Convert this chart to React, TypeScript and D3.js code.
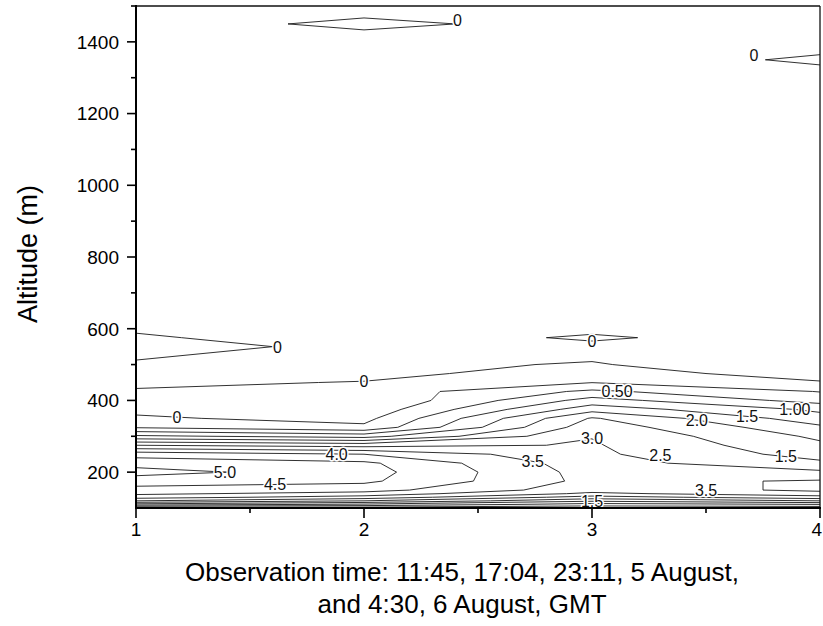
import React from 'react';
import * as d3 from 'd3';

// Altitude rows (m) of the gridded profile data
const altitudes = [100, 110, 120, 130, 140, 150, 175, 200, 225, 250, 275, 300, 325, 350, 375, 400, 425, 450, 475, 500, 550, 575, 600, 700, 800, 900, 1000, 1100, 1200, 1300, 1350, 1400, 1450, 1500];
// Observation index (x)
const times = [1, 2, 3, 4];
// Values per observation, one per altitude row
const valuesObs1 = [0.2, 1.8, 3.0, 3.7, 4.1, 4.35, 4.7, 5.2, 4.8, 4.3, 3.0, 1.6, 0.45, 0.06, -0.1, -0.1, -0.01, 0.02, 0.08, 0.02, -0.06, -0.03, 0.03, 0.1, 0.1, 0.1, 0.1, 0.1, 0.1, 0.1, 0.1, 0.1, 0.1, 0.1];
const valuesObs2 = [0.2, 1.4, 2.5, 3.3, 3.8, 4.2, 4.6, 4.7, 4.6, 4.0, 2.8, 1.3, 0.1, -0.15, -0.35, -0.5, -0.3, -0.005, 0.03, 0.03, 0.04, 0.12, 0.08, 0.1, 0.1, 0.1, 0.1, 0.1, 0.1, 0.1, 0.1, 0.1, -0.05, 0.1];
const valuesObs3 = [0.1, 0.8, 1.6, 2.3, 2.9, 3.2, 3.35, 3.3, 3.2, 3.1, 3.05, 2.98, 2.8, 2.55, 1.8, 1.2, 0.6, -0.01, -0.05, -0.01, 0.05, -0.03, 0.05, 0.1, 0.1, 0.1, 0.1, 0.1, 0.1, 0.1, 0.127, 0.1, 0.075, 0.1];
const valuesObs4 = [0.1, 1.0, 2.0, 2.8, 3.3, 3.6, 3.55, 3.1, 2.6, 2.3, 2.1, 1.9, 1.6, 1.2, 0.9, 0.3, -0.02, -0.01, 0.05, 0.1, 0.12, 0.12, 0.1, 0.1, 0.1, 0.1, 0.1, 0.1, 0.1, 0.1, -0.04, 0.1, 0.1, 0.1];

const contourLevels = [0, 0.5, 1.0, 1.5, 2.0, 2.5, 3.0, 3.5, 4.0, 4.5, 5.0];

const yTickValues = [200, 400, 600, 800, 1000, 1200, 1400];
const yMinorTickValues = [300, 500, 700, 900, 1100, 1300, 1500];
const xTickValues = [1, 2, 3, 4];
const xMinorTickValues = [1.5, 2.5, 3.5];

// Contour labels (text, level, approximate time and altitude where printed)
const labelTexts = ['0', '0', '0', '0', '0', '0', '0.50', '2.0', '1.5', '1.00', '3.0', '2.5', '1.5', '3.5', '3.5', '1.5', '4.0', '5.0', '4.5'];
const labelLevels = [0, 0, 0, 0, 0, 0, 0.5, 2.0, 1.5, 1.0, 3.0, 2.5, 1.5, 3.5, 3.5, 1.5, 4.0, 5.0, 4.5];
const labelTimes = [2.41, 3.71, 1.62, 3.0, 2.0, 1.18, 3.11, 3.46, 3.68, 3.89, 3.0, 3.3, 3.85, 2.74, 3.5, 3.0, 1.88, 1.39, 1.61];
const labelAltitudes = [1459, 1362, 548, 564, 424, 340, 438, 346, 346, 346, 296, 248, 245, 198, 150, 122, 248, 195, 150];

const FONT = '"Liberation Sans", Arial, Helvetica, sans-serif';

type Pt = [number, number];

function isolines(grid: number[][], level: number): [Pt, Pt][] {
  const segs: [Pt, Pt][] = [];
  const nx = times.length;
  const ny = altitudes.length;
  const cross = (a: Pt, va: number, b: Pt, vb: number): Pt => {
    const t = (level - va) / (vb - va);
    return [a[0] + t * (b[0] - a[0]), a[1] + t * (b[1] - a[1])];
  };
  for (let c = 0; c < nx - 1; c++) {
    for (let r = 0; r < ny - 1; r++) {
      const P: Pt[] = [
        [times[c], altitudes[r]],
        [times[c + 1], altitudes[r]],
        [times[c + 1], altitudes[r + 1]],
        [times[c], altitudes[r + 1]],
      ];
      const V = [grid[c][r], grid[c + 1][r], grid[c + 1][r + 1], grid[c][r + 1]];
      const up = V.map((v) => v >= level);
      const pts: (Pt | null)[] = [];
      for (let e = 0; e < 4; e++) {
        const a = e, b = (e + 1) % 4;
        pts.push(up[a] !== up[b] ? cross(P[a], V[a], P[b], V[b]) : null);
      }
      const present = pts.map((p, i) => (p ? i : -1)).filter((i) => i >= 0);
      if (present.length === 2) {
        segs.push([pts[present[0]] as Pt, pts[present[1]] as Pt]);
      } else if (present.length === 4) {
        const center = (V[0] + V[1] + V[2] + V[3]) / 4;
        if ((center >= level) === up[0]) {
          segs.push([pts[0] as Pt, pts[1] as Pt]);
          segs.push([pts[2] as Pt, pts[3] as Pt]);
        } else {
          segs.push([pts[3] as Pt, pts[0] as Pt]);
          segs.push([pts[1] as Pt, pts[2] as Pt]);
        }
      }
    }
  }
  return segs;
}

export default function App() {
  const x = d3.scaleLinear().domain([1, 4]).range([136, 820]);
  const y = d3.scaleLinear().domain([100, 1500]).range([508, 6]);
  const grid = [valuesObs1, valuesObs2, valuesObs3, valuesObs4];

  const contours = contourLevels.map((level) => {
    const segs = isolines(grid, level);
    const p = d3.path();
    segs.forEach(([a, b]) => {
      p.moveTo(x(a[0]), y(a[1]));
      p.lineTo(x(b[0]), y(b[1]));
    });
    return { level, segs, d: p.toString() };
  });

  const labels = labelTexts.map((text, i) => {
    const level = labelLevels[i];
    const tx = labelTimes[i];
    const hint = labelAltitudes[i];
    const c = contours.find((k) => k.level === level);
    let best = hint;
    let bestDist = 40;
    if (c) {
      c.segs.forEach(([a, b]) => {
        const lo = Math.min(a[0], b[0]);
        const hi = Math.max(a[0], b[0]);
        if (hi - lo > 1e-9 && tx >= lo && tx <= hi) {
          const alt = a[1] + ((tx - a[0]) / (b[0] - a[0])) * (b[1] - a[1]);
          const dd = Math.abs(alt - hint);
          if (dd < bestDist) {
            bestDist = dd;
            best = alt;
          }
        }
      });
    }
    return { text, px: x(tx), py: y(best) };
  });

  const [x0, x1] = x.range();
  const [yb, yt] = y.range();
  const lastTick = xTickValues[xTickValues.length - 1];

  return (
    <svg width={823} height={626} style={{ position: 'absolute', left: 0, top: 0, background: '#fff' }} fontFamily={FONT}>
      <rect x={0} y={0} width={823} height={626} fill="#fff" />
      <g fill="none" stroke="#1a1a1a" strokeWidth={0.9}>
        {contours.map((c) => (
          <path key={c.level} d={c.d} />
        ))}
      </g>
      <g fontSize={16} textAnchor="middle" fill="#111">
        {labels.map((l, i) => (
          <text
            key={i}
            x={l.px}
            y={l.py}
            dy="0.35em"
            stroke="#fff"
            strokeWidth={3}
            strokeLinejoin="round"
            style={{ paintOrder: 'stroke' }}
          >
            {l.text}
          </text>
        ))}
      </g>
      {/* frame */}
      <line x1={x0} y1={yt} x2={x1} y2={yt} stroke="#111" strokeWidth={1.3} />
      <line x1={x1} y1={yt} x2={x1} y2={yb} stroke="#111" strokeWidth={1.3} />
      <line x1={x0} y1={yt - 1} x2={x0} y2={yb + 1} stroke="#000" strokeWidth={2} />
      <line x1={x0 - 1} y1={yb} x2={x1 + 1} y2={yb} stroke="#000" strokeWidth={2} />
      {/* ticks */}
      <g stroke="#000" strokeWidth={1.6}>
        {yTickValues.map((v) => (
          <line key={v} x1={x0 - 9} x2={x0} y1={y(v)} y2={y(v)} />
        ))}
        {yMinorTickValues.map((v) => (
          <line key={'m' + v} x1={x0 - 5} x2={x0} y1={y(v)} y2={y(v)} />
        ))}
        {xTickValues.map((v) => (
          <line key={'x' + v} x1={x(v)} x2={x(v)} y1={yb} y2={yb + 10} />
        ))}
        {xMinorTickValues.map((v) => (
          <line key={'xm' + v} x1={x(v)} x2={x(v)} y1={yb} y2={yb + 5} />
        ))}
      </g>
      <g fontSize={19} fill="#000">
        {yTickValues.map((v) => (
          <text key={v} x={x0 - 17} y={y(v)} dy="0.36em" textAnchor="end">
            {v}
          </text>
        ))}
        {xTickValues.map((v) => (
          <text
            key={'x' + v}
            x={v === lastTick ? 822 : x(v)}
            y={536}
            textAnchor={v === lastTick ? 'end' : 'middle'}
          >
            {v}
          </text>
        ))}
      </g>
      <text x={0} y={0} transform="translate(37,254) rotate(-90)" textAnchor="middle" fontSize={27} fill="#000">
        Altitude (m)
      </text>
      <text x={462} y={581} textAnchor="middle" fontSize={26} fill="#000">
        Observation time: 11:45, 17:04, 23:11, 5 August,
      </text>
      <text x={462} y={613} textAnchor="middle" fontSize={26} fill="#000">
        and 4:30, 6 August, GMT
      </text>
    </svg>
  );
}
